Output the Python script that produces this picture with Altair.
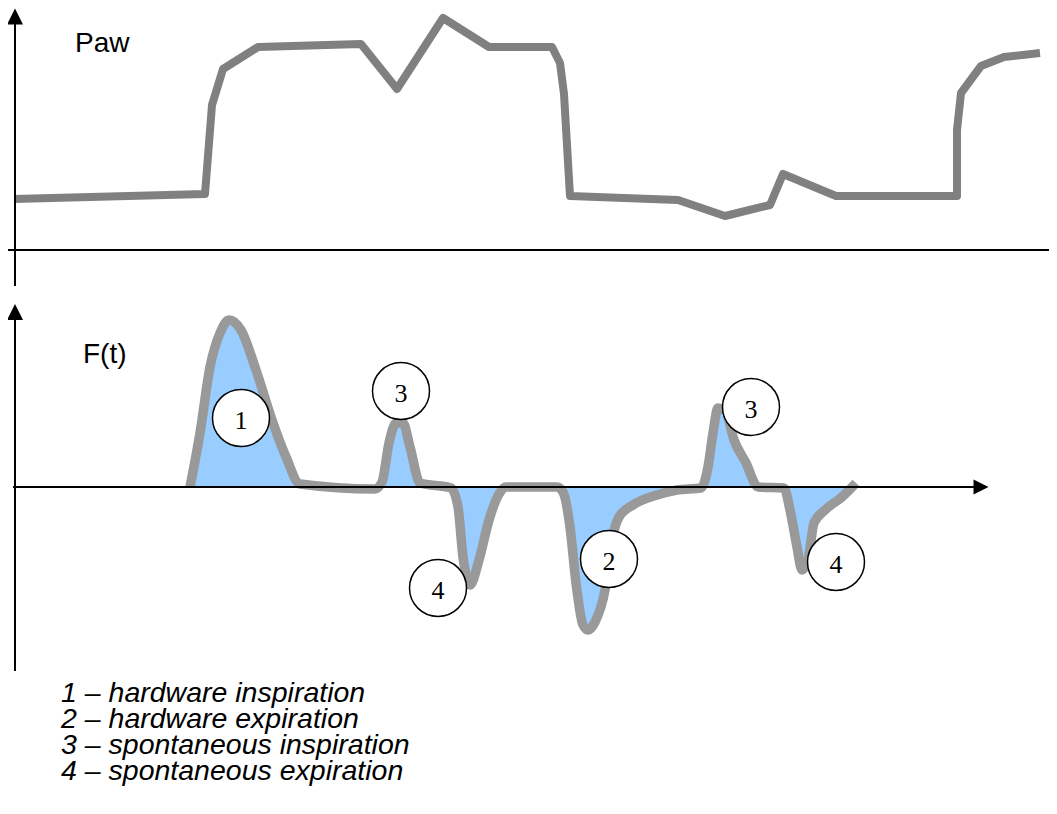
import altair as alt
import pandas as pd

# ---------------- data ----------------
# Top panel: airway pressure Paw (arbitrary units, 0 = time axis)
paw_t = [14, 205, 212, 223, 258, 361, 397, 443, 489, 552, 560, 564, 570, 678,
         725, 770, 783, 836, 957, 957, 961, 981, 1004, 1040]
paw_v = [5.1, 5.6, 14.5, 18.1, 20.3, 20.6, 16.1, 23.2, 20.3, 20.3, 18.7, 15.6,
         5.4, 5.0, 3.4, 4.5, 7.6, 5.4, 5.4, 12.0, 15.7, 18.4, 19.3, 19.7]

# Bottom panel: flow F(t) (arbitrary units, 0 = time axis)
flow_t = [190, 200, 210, 220, 229, 241, 255, 272, 286, 300,
          375, 382, 389, 396, 403, 410, 420,
          451, 458, 463, 470, 479, 489, 499, 506,
          557, 563, 570, 576, 583, 588, 595, 605, 612, 619,
          633, 657, 677, 701,
          708, 713, 718, 725, 734, 746, 758,
          784, 790, 797, 802, 808, 814, 825, 842, 856]
flow_v = [0.0, 5.4, 12.0, 15.4, 16.7, 15.7, 12.0, 6.7, 3.0, 0.3,
          -0.2, 0.5, 4.4, 6.4, 6.4, 4.0, 0.4,
          -0.1, -2.0, -7.0, -9.8, -7.3, -3.3, -0.7, 0.0,
          0.0, -0.5, -4.0, -9.6, -13.8, -14.3, -13.5, -10.3, -5.3, -3.0,
          -1.8, -0.8, -0.3, -0.1,
          2.0, 5.4, 7.9, 7.7, 4.7, 2.4, 0.0,
          -0.1, -2.3, -6.0, -8.3, -7.3, -3.6, -2.3, -1.0, 0.4]

# Numbered event markers on the flow curve
marker_t = [241, 609, 401, 751, 438, 836]
marker_v = [6.9, -7.2, 9.6, 8.0, -10.1, -7.5]
marker_label = ["1", "2", "3", "3", "4", "4"]

# Legend lines
legend_lines = ["1 – hardware inspiration",
                "2 – hardware expiration",
                "3 – spontaneous inspiration",
                "4 – spontaneous expiration"]

# Axis extents (data units of each panel)
top_axes = {"x1": [8, 15], "x2": [1052, 15], "y1": [0, -3.6], "y2": [0, 23.4]}
bot_axes = {"x1": [13, 15], "x2": [975, 15], "y1": [0, -18.4], "y2": [0, 17.2]}
top_arrows = {"t": [15, 1060], "v": [23.35, 0], "dir": ["up", "right"]}
bot_arrows = {"t": [15, 981], "v": [17.5, 0], "dir": ["up", "right"]}

# ---------------- tables ----------------
paw_df = pd.DataFrame({"t": paw_t, "v": paw_v, "i": range(len(paw_t))})
flow_df = pd.DataFrame({"t": flow_t, "v": flow_v, "i": range(len(flow_t))})
mark_df = pd.DataFrame({"t": marker_t, "v": marker_v, "label": marker_label})
leg_df = pd.DataFrame({"row": range(len(legend_lines)), "text": legend_lines})
top_ax_df = pd.DataFrame(top_axes)
bot_ax_df = pd.DataFrame(bot_axes)
top_ar_df = pd.DataFrame(top_arrows)
bot_ar_df = pd.DataFrame(bot_arrows)

W, H = 1041, 790
X_SCALE = alt.Scale(domain=[8, 1049], range=[0, W], nice=False, zero=False)
P_SCALE = alt.Scale(domain=[0, 25], range=[242, -8], nice=False, zero=False)
F_SCALE = alt.Scale(domain=[-20, 20], range=[679, 279], nice=False, zero=False)
L_SCALE = alt.Scale(domain=[0, 3], range=[694, 772], nice=False, zero=False)

UP = "M0,-1L1,1L-1,1Z"
RIGHT = "M1,0L-1,-1L-1,1Z"

def x_enc(field="t"):
    return alt.X(f"{field}:Q", scale=X_SCALE, axis=None)

# ---------------- top panel ----------------
paw_line = alt.Chart(paw_df).mark_line(
    stroke="#808080", strokeWidth=8, strokeJoin="round", strokeCap="butt"
).encode(x=x_enc(), y=alt.Y("v:Q", scale=P_SCALE, axis=None), order="i:Q")

top_rules = alt.Chart(top_ax_df).mark_rule(color="black", strokeWidth=2).encode(
    x=x_enc("x1"), x2="x2:Q",
    y=alt.Y("y1:Q", scale=P_SCALE, axis=None), y2="y2:Q")

top_up = alt.Chart(top_ar_df).transform_filter("datum.dir == 'up'").mark_point(
    shape=UP, filled=True, color="black", size=256, opacity=1, strokeWidth=0
).encode(x=x_enc(), y=alt.Y("v:Q", scale=P_SCALE, axis=None))
top_right = alt.Chart(top_ar_df).transform_filter("datum.dir == 'right'").mark_point(
    shape=RIGHT, filled=True, color="black", size=225, opacity=1, strokeWidth=0
).encode(x=x_enc(), y=alt.Y("v:Q", scale=P_SCALE, axis=None))

paw_label = alt.Chart(pd.DataFrame({"s": ["Paw"]})).mark_text(
    align="left", baseline="alphabetic", font="Liberation Sans", fontSize=28,
    color="black"
).encode(x=alt.value(67), y=alt.value(44), text="s:N")

# ---------------- bottom panel ----------------
flow_area = alt.Chart(flow_df).mark_area(
    color="#99CCFF", opacity=1, interpolate="monotone"
).encode(x=x_enc(), y=alt.Y("v:Q", scale=F_SCALE, axis=None), y2=alt.datum(0))

flow_line = alt.Chart(flow_df).mark_line(
    stroke="#999999", strokeWidth=9.5, interpolate="monotone",
    strokeJoin="round", strokeCap="butt"
).encode(x=x_enc(), y=alt.Y("v:Q", scale=F_SCALE, axis=None), order="i:Q")

bot_rules = alt.Chart(bot_ax_df).mark_rule(color="black", strokeWidth=2).encode(
    x=x_enc("x1"), x2="x2:Q",
    y=alt.Y("y1:Q", scale=F_SCALE, axis=None), y2="y2:Q")

bot_up = alt.Chart(bot_ar_df).transform_filter("datum.dir == 'up'").mark_point(
    shape=UP, filled=True, color="black", size=256, opacity=1, strokeWidth=0
).encode(x=x_enc(), y=alt.Y("v:Q", scale=F_SCALE, axis=None))
bot_right = alt.Chart(bot_ar_df).transform_filter("datum.dir == 'right'").mark_point(
    shape=RIGHT, filled=True, color="black", size=225, opacity=1, strokeWidth=0
).encode(x=x_enc(), y=alt.Y("v:Q", scale=F_SCALE, axis=None))

circles = alt.Chart(mark_df).mark_circle(
    size=3249, fill="white", stroke="black", strokeWidth=1.5, opacity=1
).encode(x=x_enc(), y=alt.Y("v:Q", scale=F_SCALE, axis=None))

circle_text = alt.Chart(mark_df).mark_text(
    font="Liberation Serif", fontSize=26, color="black", align="center",
    baseline="alphabetic", dy=11
).encode(x=x_enc(), y=alt.Y("v:Q", scale=F_SCALE, axis=None), text="label:N")

f_label = alt.Chart(pd.DataFrame({"s": ["F(t)"]})).mark_text(
    align="left", baseline="alphabetic", font="Liberation Sans", fontSize=28,
    color="black"
).encode(x=alt.value(75), y=alt.value(355), text="s:N")

# ---------------- legend text ----------------
legend = alt.Chart(leg_df).mark_text(
    align="left", baseline="alphabetic", font="Liberation Sans",
    fontStyle="italic", fontSize=28.5, color="black"
).encode(x=alt.value(53), y=alt.Y("row:Q", scale=L_SCALE, axis=None), text="text:N")

chart = alt.layer(
    paw_line, top_rules, top_up, top_right, paw_label,
    flow_area, flow_line, bot_rules, bot_up, bot_right,
    circles, circle_text, f_label, legend
).resolve_scale(y="independent").properties(
    width=W, height=H, padding=0,
    autosize=alt.AutoSizeParams(type="none"),
    background="white"
).configure_view(stroke=None)

chart.save("out.html", embed_options={"renderer": "svg", "actions": False})
